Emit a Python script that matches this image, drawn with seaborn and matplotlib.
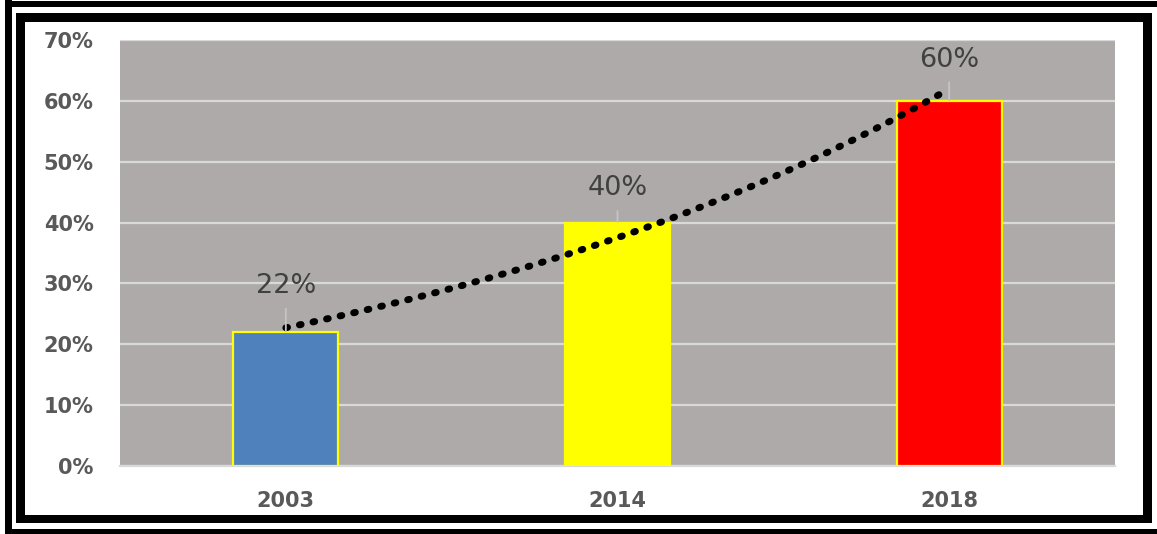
import numpy as np
import pandas as pd
import matplotlib
matplotlib.use("Agg")
import matplotlib.pyplot as plt
from matplotlib.patches import Rectangle
from matplotlib.ticker import FuncFormatter
import seaborn as sns

# ---- data ----
years = ["2003", "2014", "2018"]
values = [22, 40, 60]          # percent
bar_colors = ["#4F81BD", "#FFFF00", "#FF0000"]
y_ticks = [0, 10, 20, 30, 40, 50, 60, 70]

# ---- layout / style ----
W, H = 1157, 534
label_offsets_pt = [28, 19.5, 24.5]   # baseline of value label above bar top

sns.set_theme(style="white")
plt.rcParams["font.family"] = ["DejaVu Sans"]

fig = plt.figure(figsize=(W / 100, H / 100), dpi=100, facecolor="white")
ax = fig.add_axes([120 / W, (H - 466) / H, 995 / W, 426 / H])
ax.set_facecolor("#AEAAAA")

df = pd.DataFrame({"year": years, "value": values})
sns.barplot(data=df, x="year", y="value", hue="year", palette=bar_colors,
            width=0.316, edgecolor="#FFFF00", linewidth=1.6, legend=False,
            saturation=1, ax=ax, zorder=3)

ax.set_xlim(-0.5, 2.5)
ax.set_ylim(0, 70)
ax.set_yticks(y_ticks)
ax.yaxis.set_major_formatter(FuncFormatter(lambda v, p: f"{v:.0f}%"))
ax.grid(axis="y", color="#D9D9D9", linewidth=1.6, zorder=0)
ax.grid(axis="x", visible=False)
ax.set_axisbelow(True)
for s in ["left", "right", "top"]:
    ax.spines[s].set_visible(False)
ax.spines["bottom"].set_color("#D9D9D9")
ax.spines["bottom"].set_linewidth(1.6)
ax.set_xlabel("")
ax.set_ylabel("")
ax.tick_params(axis="y", length=0, pad=19, labelsize=15, labelcolor="#595959")
ax.tick_params(axis="x", length=0, pad=18, labelsize=15, labelcolor="#595959")
for t in ax.get_xticklabels() + ax.get_yticklabels():
    t.set_fontweight("bold")

# exponential trendline fitted to the data (Excel-style)
xs = np.arange(len(values))
b, a = np.polyfit(xs, np.log(values), 1)
xx = np.linspace(0, len(values) - 1, 400)
ax.plot(xx, np.exp(a + b * xx), color="black", linewidth=5.0,
        linestyle=(0, (0.25, 1.75)), dash_capstyle="round", zorder=5)

# value labels with leader lines
for i, (v, off) in enumerate(zip(values, label_offsets_pt)):
    ax.annotate(f"{v}%", xy=(i, v), xytext=(0, off), textcoords="offset points",
                ha="center", va="baseline", fontsize=19.5, color="#404040",
                zorder=6,
                arrowprops=dict(arrowstyle="-", color="#C4C4C4", lw=1.3,
                                shrinkA=4.5, shrinkB=0.5, relpos=(0.5, 0)))

# double frame around the chart (figure pixel coordinates -> fractions)
def frame_rect(x0, y0_img, x1, y1_img):
    fig.add_artist(Rectangle((x0 / W, (H - y1_img) / H), (x1 - x0) / W,
                             (y1_img - y0_img) / H, transform=fig.transFigure,
                             facecolor="black", edgecolor="none", zorder=10))

# outer frame
frame_rect(5, 0, 12, 533)
frame_rect(5, 1, 1157, 7)
frame_rect(5, 529, 1157, 534)
# inner frame
frame_rect(16, 13, 25, 523)
frame_rect(1143, 13, 1152, 523)
frame_rect(16, 13, 1152, 22)
frame_rect(16, 515, 1152, 523)

fig.savefig("out.png", dpi=100, facecolor="white")
